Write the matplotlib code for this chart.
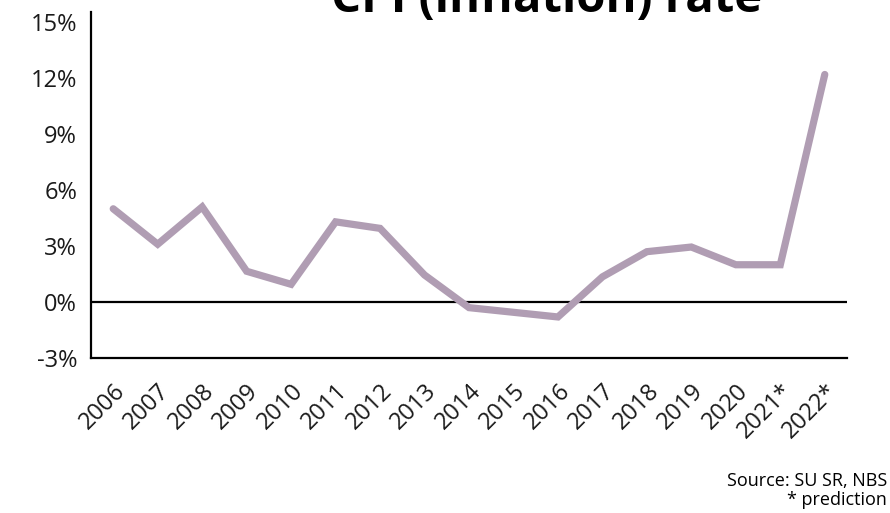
import matplotlib
matplotlib.use("Agg")
import matplotlib.pyplot as plt
from matplotlib.ticker import FuncFormatter

plt.rcParams['font.family'] = ['Open Sans', 'DejaVu Sans']

years = ["2006", "2007", "2008", "2009", "2010", "2011", "2012", "2013", "2014",
         "2015", "2016", "2017", "2018", "2019", "2020", "2021*", "2022*"]
cpi = [5.0, 3.1, 5.1, 1.65, 0.95, 4.3, 3.95, 1.45, -0.3,
       -0.55, -0.8, 1.35, 2.7, 2.95, 2.0, 2.0, 12.2]
y_ticks = [-3, 0, 3, 6, 9, 12, 15]

fig = plt.figure(figsize=(8.9, 5.13), dpi=100)
ax = fig.add_axes([91/890, 1 - 358/513, (847 - 91)/890, (358 - 12)/513])

x = list(range(len(years)))
ax.plot(x, cpi, color='#B09DB3', lw=5.2, solid_joinstyle='miter', solid_capstyle='round', zorder=3)
ax.axhline(0, color='black', lw=1.6, zorder=2)

ax.set_xlim(-0.5, len(years) - 0.5)
ax.set_ylim(-3, 15.55)
ax.set_yticks(y_ticks)
ax.yaxis.set_major_formatter(FuncFormatter(lambda v, p: f"{v:.0f}%"))
ax.set_xticks(x)
ax.set_xticklabels(years, rotation=45, ha='right', va='top', rotation_mode='anchor')
ax.tick_params(axis='both', length=0, colors='#1a1a1a')
ax.tick_params(axis='y', pad=10, labelsize=17)
ax.tick_params(axis='x', pad=15, labelsize=17)

for s in ['top', 'right']:
    ax.spines[s].set_visible(False)
for s in ['left', 'bottom']:
    ax.spines[s].set_linewidth(1.6)
    ax.spines[s].set_color('black')

fig.text(547/890, 1 - 12/513, "CPI (inflation) rate", ha='center', va='baseline',
         fontsize=34, fontweight='bold')
fig.text(887/890, 1 - 486/513, "Source: SU SR, NBS", ha='right', va='baseline', fontsize=13)
fig.text(887/890, 1 - 505/513, "* prediction", ha='right', va='baseline', fontsize=13)

fig.savefig("out.png", dpi=100, facecolor='white')
